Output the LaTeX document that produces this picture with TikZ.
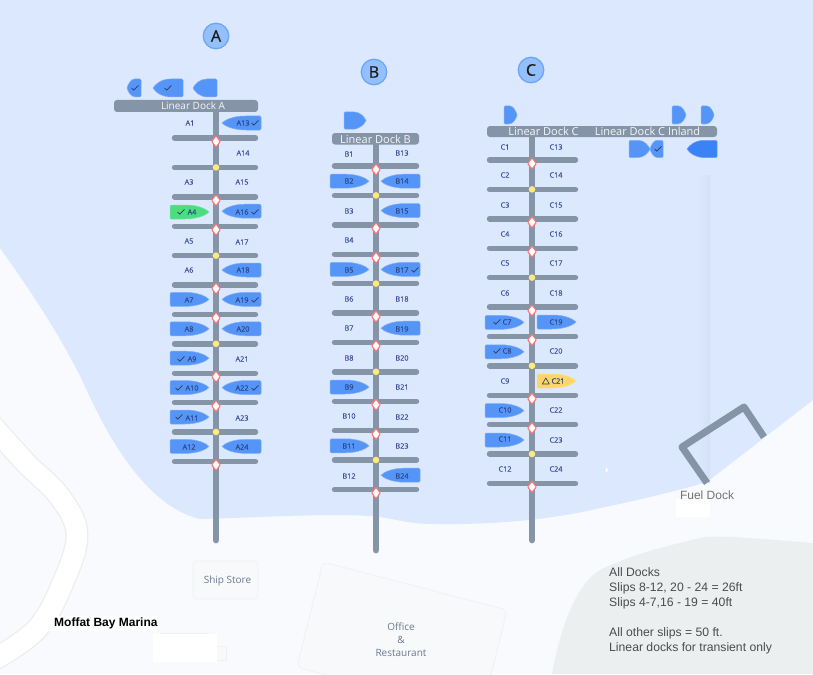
\documentclass[tikz,border=0pt]{standalone}
\usepackage{fontspec}
\setmainfont{Open Sans}
\newfontfamily\arialf{Liberation Sans}
\newfontfamily\slipf[FakeBold=0.25]{Open Sans}
\newfontfamily\badgef[FakeBold=0.5]{Open Sans}
\usetikzlibrary{calc}
\definecolor{water}{HTML}{DBE8FD}
\definecolor{land}{HTML}{F8FAFD}
\definecolor{rock}{HTML}{EBEFF0}
\definecolor{dockgray}{HTML}{8595A7}
\definecolor{boatblue}{HTML}{5595F8}
\definecolor{boatdark}{HTML}{3B82F6}
\definecolor{boatgreen}{HTML}{4ADE80}
\definecolor{boatamber}{HTML}{FDD568}
\definecolor{boatedge}{HTML}{93C0FB}
\definecolor{slipink}{HTML}{40559C}
\definecolor{boatink}{HTML}{2C4A8C}
\definecolor{checkink}{HTML}{2D3B55}
\definecolor{mutedink}{HTML}{6B7A90}
\definecolor{yard}{HTML}{F8F9FB}
\definecolor{yardedge}{HTML}{EFF1F3}
\definecolor{berthyellow}{HTML}{FDE97C}
\definecolor{stripdark}{HTML}{D3E0F6}
\tikzset{
  spine/.style={draw=dockgray,line width=6.8pt,line cap=round},
  finger/.style={draw=dockgray,line width=5.4pt,line cap=round},
  fuelline/.style={draw=dockgray,line width=7pt,line join=round},
  bar/.style={fill=dockgray,rounded corners=3pt},
  barlabel/.style={text=white!92!dockgray,inner sep=0pt},
  slipe/.style={text=slipink,font=\slipf\fontsize{7.3}{8}\selectfont,inner sep=0pt},
  slipb/.style={text=boatink,font=\slipf\fontsize{7.3}{8}\selectfont,inner sep=0pt},
  tick/.style={draw=checkink,line width=0.7pt},
  dockid/.style={circle,draw=boatblue!85!white,line width=1.3pt,fill=boatedge,minimum size=25.5pt,inner sep=0pt,text=black!90,font=\badgef\fontsize{16}{17}\selectfont},
  yardlabel/.style={text=mutedink,font=\fontsize{10}{13}\selectfont,align=center,inner sep=0pt},
}
% flat end, nose end, y, half height, colour
\newcommand\boat[5]{%
  \pgfmathsetmacro\by{#3}%
  \pgfmathsetmacro\bw{#2-(#1)}%
  \path[fill=#5,draw=#5!75!white,line width=0.5pt,rounded corners=1.2pt]
    (#1,\by-#4) -- ({#1+.38*\bw},\by-#4) [rounded corners=0pt]
    .. controls ({#1+.72*\bw},\by-#4) and ({#2-.07*\bw},{\by-.42*#4}) .. (#2,\by)
    .. controls ({#2-.07*\bw},{\by+.42*#4}) and ({#1+.72*\bw},\by+#4) .. ({#1+.38*\bw},\by+#4)
    [rounded corners=1.2pt] -- (#1,\by+#4) -- cycle;}
\newcommand\tickmark[2]{%
  \draw[tick] ($(#1,#2)+(-3.4,0)$) -- ($(#1,#2)+(-1.2,2.2)$) -- ($(#1,#2)+(3.4,-2.6)$);}
% spine x, first finger y, finger left, finger right
\newcommand\fingers[4]{%
  \foreach \k in {0,...,11}{%
    \pgfmathsetmacro\fy{#2+29.4*\k}%
    \draw[finger] (#3+2.5,\fy) -- (#4-2.5,\fy);}%
}
\newcommand\markers[2]{%
  \foreach \k in {0,...,11}{%
    \pgfmathsetmacro\fy{#2+29.4*\k}%
    \pgfmathtruncatemacro\km{mod(\k,3)}%
    \ifnum\km=1
      \fill[fill=berthyellow] (#1,\fy) circle (3.3pt);
    \else
      \path[fill=white,draw=red!55!white,line width=1.1pt,rounded corners=.8pt,line join=round]
        (#1,\fy+3.5-5.6) -- (#1+4.3,\fy+3.5) -- (#1,\fy+3.5+5.6) -- (#1-4.3,\fy+3.5) -- cycle;
    \fi}%
}
\begin{document}
\begin{tikzpicture}[x=1pt,y=-1pt]
\useasboundingbox (0,0) rectangle (813,674);
\clip (0,0) rectangle (813,674);
% ground
\fill[land] (0,0) rectangle (813,674);
\fill[water] (0,0) -- (0,248)
  .. controls (30,290) and (60,335) .. (82,380)
  .. controls (100,420) and (140,505) .. (200,519)
  .. controls (250,518) and (340,512) .. (380,517)
  .. controls (400,520) and (410,524) .. (435,524)
  .. controls (500,525) and (560,518) .. (600,508)
  .. controls (640,500) and (680,490) .. (707,482)
  -- (813,400) -- (813,0) -- cycle;
\fill[rock] (813,543) .. controls (770,540) and (720,534) .. (700,538)
  .. controls (670,545) and (630,555) .. (600,570)
  .. controls (575,585) and (560,630) .. (552,674) -- (813,674) -- cycle;
% faint strip
\shade[left color=water,right color=stripdark] (698,175) rectangle (710,482);
% road
\draw[draw=black!7,line width=23pt] plot[smooth,tension=.6] coordinates {(-10,423) (25,462) (60,497) (77,535) (62,585) (36,630) (-10,662)};
\draw[draw=white,line width=20.5pt] plot[smooth,tension=.6] coordinates {(-10,423) (25,462) (60,497) (77,535) (62,585) (36,630) (-10,662)};
% buildings
\path[fill=yard,draw=yardedge,line width=.8pt,rounded corners=4pt] (193,561) rectangle (258,599);
\path[fill=yard,draw=yardedge,line width=.8pt,rounded corners=5pt] (323,562) -- (507,610) -- (480,720) -- (297,667) -- cycle;
\path[fill=yard,draw=yardedge,line width=.8pt] (160,633) rectangle (207,650);
\path[fill=yard,draw=yardedge,line width=.8pt] (210,646) rectangle (226,660);
\fill[white] (153,634) rectangle (217,662);
\node[yardlabel] (shipstore) at (227.5,581) {Ship Store};
\node[yardlabel] (office) at (401,639.5) {Office\\\&\\Restaurant};
% fuel dock
\draw[fuelline] (707,483) -- (682,447) -- (744,407) -- (764,437);
\fill[white] (676,499) rectangle (710,517);
\node[inner sep=0pt,text=black!55,font=\arialf\fontsize{12}{14}\selectfont] (fueldock) at (707,495) {Fuel Dock};
\fill[white] (605.5,467) -- (608,470) -- (606,473) -- cycle;
% Dock A
\draw[spine] (216,104) -- (216,540);
\fingers{216}{138}{172}{258}
\fill[bar] (114,100) rectangle (258,112);
\node[barlabel,font=\fontsize{10}{12}\selectfont] (linA) at (193,106) {Linear Dock A};
\markers{216}{138}
\foreach \k in {6,...,11}{\boat{170}{209}{123+29.4*\k}{7}{boatblue}}
\boat{170}{209}{212}{7}{boatgreen}
\foreach \k in {0,3,5,6,7,9,11}{\boat{261}{222}{123+29.4*\k}{7}{boatblue}}
\boat{141}{127}{88}{9}{boatblue}
\boat{183}{153}{88}{9}{boatblue}
\boat{217}{193}{88}{9}{boatblue}
\tickmark{135}{88}
\tickmark{168}{88}
\foreach \n/\lx/\ly/\c in {1/190/123/e,3/189/182/e,4/192/212/b,5/189/241/e,6/189/270/e,7/189/300/b,8/189/329/b,9/192/359/b,10/192/388/b,11/192/418/b,12/189/447/b,13/243/123/b,14/243/153/e,15/242/182/e,16/242/212/b,17/242/242/e,18/243/270/b,19/242/300/b,20/243/329/b,21/242/359/e,22/242/388/b,23/242/418/e,24/242/447/b}{
  \node[slip\c] (A\n) at (\lx,\ly) {A\n};}
\foreach \cx/\cy in {255/123,181/212,255/212,255/300,181/359,179/388,255/388,179/417}{\tickmark{\cx}{\cy}}
% Dock B
\draw[spine] (376,137) -- (376,550);
\fingers{376}{166}{332}{419}
\fill[bar] (332,133) rectangle (419,144.5);
\node[barlabel,font=\fontsize{11}{12}\selectfont] (linB) at (375.5,139) {Linear Dock B};
\markers{376}{166}
\foreach \k in {1,4,8,10}{\boat{330}{369}{151.8+29.4*\k}{7}{boatblue}}
\foreach \k in {1,2,4,6,11}{\boat{420}{381}{151.8+29.4*\k}{7}{boatblue}}
\boat{344}{366}{120.5}{8.7}{boatblue}
\foreach \n/\lx/\ly/\c in {1/349/154/e,2/349/181/b,3/349/211/e,4/349/240/e,5/349/270/b,6/349/299/e,7/349/328/e,8/349/358/e,9/349/387/b,10/349/416/e,11/349/446/b,12/349/476/e,13/402/153/e,14/402/181/b,15/402/211/b,17/402/270/b,18/402/299/e,19/402/329/b,20/402/358/e,21/402/387/e,22/402/417/e,23/402/446/e,24/402/476/b}{
  \node[slip\c] (B\n) at (\lx,\ly) {B\n};}
\tickmark{415}{270}
% Dock C
\draw[spine] (532,130) -- (532,540);
\fingers{532}{160}{487}{578}
\fill[bar] (487,126) rectangle (717,137);
\node[barlabel,font=\fontsize{11}{12}\selectfont] (linC) at (543.5,131.5) {Linear Dock C};
\node[barlabel,font=\fontsize{11}{12}\selectfont] (linCI) at (647.5,131.5) {Linear Dock C Inland};
\markers{532}{160}
\foreach \k in {6,7,9,10}{\boat{485}{524}{146+29.4*\k}{7}{boatblue}}
\boat{537}{576}{322}{7}{boatblue}
\boat{537}{576}{381}{7}{boatamber}
\boat{504}{517}{115}{9}{boatblue}
\boat{672}{686}{115}{9}{boatblue}
\boat{701}{714}{115}{9}{boatblue}
\boat{629}{650}{149}{8.7}{boatblue}
\boat{663}{650}{149}{8.7}{boatblue}
\boat{717}{687}{149}{8.7}{boatdark}
\tickmark{658}{149}
\foreach \n/\lx/\ly/\c in {1/505/147/e,2/505/175/e,3/505/205/e,4/505/234/e,5/505/263/e,6/505/293/e,7/507/322/b,8/507/351/b,9/505/381/e,10/505/410/b,11/505/439/b,12/505/469/e,13/556/147/e,14/556/175/e,15/556/205/e,16/556/234/e,17/556/263/e,18/556/293/e,19/556/322/b,20/556/351/e,21/558/381/b,22/556/410/e,23/556/440/e,24/556/469/e}{
  \node[slip\c] (C\n) at (\lx,\ly) {C\n};}
\foreach \cx/\cy in {497/322,497/351}{\tickmark{\cx}{\cy}}
\draw[draw=checkink,line width=.6pt,line join=round] (545.8,378) -- (549.3,384) -- (542.3,384) -- cycle;
% dock badges
\node[dockid] (badgeA) at (216,36) {A};
\node[dockid] (badgeB) at (374,72) {B};
\node[dockid] (badgeC) at (531,70) {C};
% notes
\fill[white] (35,616) rectangle (157,631);
\node[anchor=west,inner sep=0pt,text=black,font=\arialf\bfseries\fontsize{12}{14}\selectfont] (title) at (54,623) {Moffat Bay Marina};
\node[anchor=north west,inner sep=0pt,align=left,text=black!70,font=\arialf\fontsize{12.2}{15}\selectfont] (notes) at (609,567.5) {All Docks\\Slips 8-12, 20 - 24 = 26ft\\Slips 4-7,16 - 19 = 40ft\\[15pt]All other slips = 50 ft.\\Linear docks for transient only};
\end{tikzpicture}
\end{document}
